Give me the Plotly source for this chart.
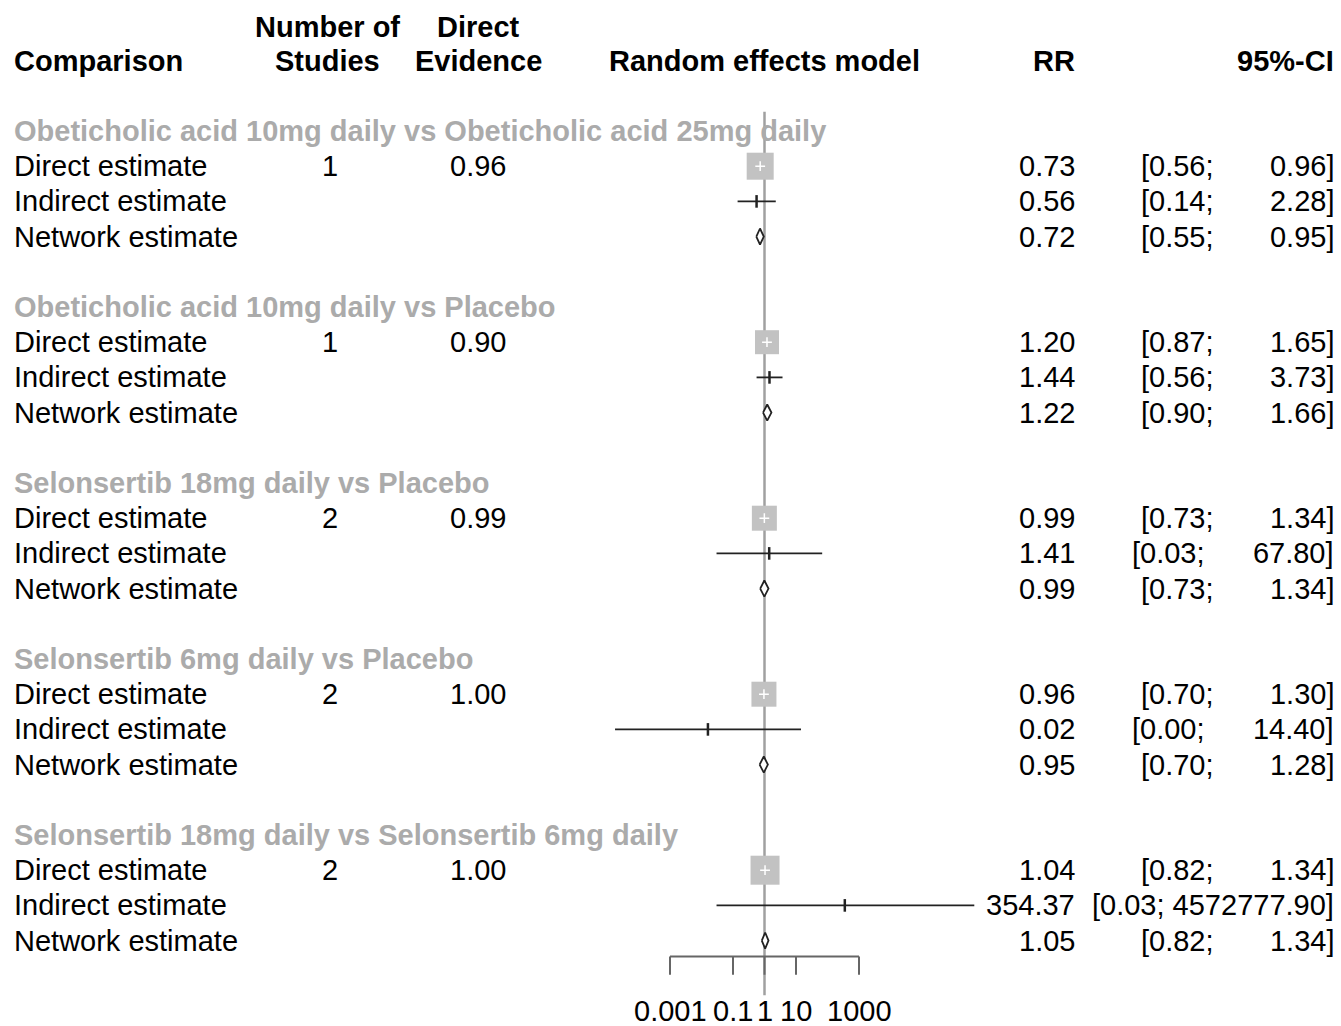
import math
import plotly.graph_objects as go

# ---------------- data ----------------
comparisons = [
    "Obeticholic acid 10mg daily vs Obeticholic acid 25mg daily",
    "Obeticholic acid 10mg daily vs Placebo",
    "Selonsertib 18mg daily vs Placebo",
    "Selonsertib 6mg daily vs Placebo",
    "Selonsertib 18mg daily vs Selonsertib 6mg daily",
]
row_labels = ["Direct estimate", "Indirect estimate", "Network estimate"]
n_studies = [1, 1, 2, 2, 2]
direct_evidence = [0.96, 0.90, 0.99, 1.00, 1.00]

direct_rr = [0.73, 1.20, 0.99, 0.96, 1.04]
direct_lower = [0.56, 0.87, 0.73, 0.70, 0.82]
direct_upper = [0.96, 1.65, 1.34, 1.30, 1.34]

indirect_rr = [0.56, 1.44, 1.41, 0.016, 354.37]
indirect_lower = [0.14, 0.56, 0.03, 0.000018, 0.03]
indirect_upper = [2.28, 3.73, 67.80, 14.40, 4572777.90]

network_rr = [0.72, 1.22, 0.99, 0.95, 1.05]
network_lower = [0.55, 0.90, 0.73, 0.70, 0.82]
network_upper = [0.95, 1.66, 1.34, 1.28, 1.34]

tick_values = [0.001, 0.1, 1, 10, 1000]
tick_labels = ["0.001", "0.1", "1", "10", "1000"]
null_value = 1

# ---------------- style ----------------
W, H = 1341, 1026
FONT = "Liberation Sans, Arial, Helvetica, sans-serif"
FS = 29
TITLE_GREY = "#ABABAB"
SQUARE_GREY = "#C2C2C2"
REF_GREY = "#A0A0A0"
AXIS_GREY = "#666666"
SQUARE_PX = [27, 24, 25, 25, 29]
ROWS_PER_GROUP = 5
DIAMOND_HALF = 0.23
NBSP = "\u00a0"

# pixel columns (for paper-referenced text)
COL_LABEL = 12
COL_STUDIES = 330
COL_EVID = 478
COL_MODEL = 765
COL_RR = 1077
COL_CI = 1336


def px(xp):
    return xp / W


fig = go.Figure()
annotations = []


def txt(x_px, r, s, anchor="left", bold=False, color="black"):
    annotations.append(dict(
        x=px(x_px), y=r, xref="paper", yref="y",
        text=("<b>%s</b>" % s) if bold else s, showarrow=False,
        xanchor=anchor, yanchor="middle",
        font=dict(family=FONT, size=FS, color=color)))


# headers
txt(COL_STUDIES - 3, -2.95, "Number of", anchor="center", bold=True)
txt(COL_STUDIES - 3, -2, "Studies", anchor="center", bold=True)
txt(COL_LABEL, -2, "Comparison", bold=True)
txt(COL_EVID, -2.95, "Direct", anchor="center", bold=True)
txt(COL_EVID, -2, "Evidence", anchor="center", bold=True)
txt(COL_MODEL, -2, "Random effects model", anchor="center", bold=True)
txt(COL_RR, -2, "RR", anchor="right", bold=True)
txt(COL_CI, -2, "95%-CI", anchor="right", bold=True)

# CI string formatting (R style padding)
all_lower = direct_lower + indirect_lower + network_lower
all_upper = direct_upper + indirect_upper + network_upper
wl = max(len(f"{v:.2f}") for v in all_lower)
wu = max(len(f"{v:.2f}") for v in all_upper)


def ci_str(lo, up):
    return "[" + f"{lo:.2f}".rjust(wl, NBSP) + ";" + NBSP + f"{up:.2f}".rjust(wu, NBSP) + "]"


last_row = (len(comparisons) - 1) * ROWS_PER_GROUP + 3
axis_r = last_row + 0.45
tick_r = axis_r + 0.52
label_r = last_row + 2.0

# reference line (beneath everything)
fig.add_shape(type="line", xref="x", yref="y", x0=null_value, x1=null_value,
              y0=-0.55, y1=label_r - 0.45, line=dict(color=REF_GREY, width=2.5),
              layer="below")

for g, comp in enumerate(comparisons):
    r0 = g * ROWS_PER_GROUP
    txt(COL_LABEL, r0, comp, bold=True, color=TITLE_GREY)
    for k, lab in enumerate(row_labels):
        txt(COL_LABEL, r0 + 1 + k, lab)
    txt(COL_STUDIES, r0 + 1, str(n_studies[g]), anchor="center")
    txt(COL_EVID, r0 + 1, f"{direct_evidence[g]:.2f}", anchor="center")

    ests = [(direct_rr[g], direct_lower[g], direct_upper[g]),
            (indirect_rr[g], indirect_lower[g], indirect_upper[g]),
            (network_rr[g], network_lower[g], network_upper[g])]
    for k, (te, lo, up) in enumerate(ests):
        r = r0 + 1 + k
        txt(COL_RR, r, f"{te:.2f}", anchor="right")
        txt(COL_CI, r, ci_str(lo, up), anchor="right")

    # direct: CI line + grey square with white cross
    r = r0 + 1
    fig.add_trace(go.Scatter(x=[direct_lower[g], direct_upper[g]], y=[r, r], mode="lines",
                             line=dict(color="black", width=1.8), hoverinfo="skip"))
    fig.add_trace(go.Scatter(x=[direct_rr[g]], y=[r], mode="markers",
                             marker=dict(symbol="square", size=SQUARE_PX[g], color=SQUARE_GREY,
                                         line=dict(width=0)), hoverinfo="skip"))
    fig.add_trace(go.Scatter(x=[direct_rr[g]], y=[r], mode="markers",
                             marker=dict(symbol="cross-thin", size=7,
                                         line=dict(color="white", width=1.5)), hoverinfo="skip"))
    # indirect: CI line + small tick
    r = r0 + 2
    fig.add_trace(go.Scatter(x=[indirect_lower[g], indirect_upper[g]], y=[r, r], mode="lines",
                             line=dict(color="#222222", width=1.8), hoverinfo="skip"))
    fig.add_trace(go.Scatter(x=[indirect_rr[g]], y=[r], mode="markers",
                             marker=dict(symbol="line-ns", size=9,
                                         line=dict(color="#222222", width=2.5)), hoverinfo="skip"))
    # network: diamond
    r = r0 + 3
    fig.add_trace(go.Scatter(
        x=[network_lower[g], network_rr[g], network_upper[g], network_rr[g], network_lower[g]],
        y=[r, r - DIAMOND_HALF, r, r + DIAMOND_HALF, r],
        mode="lines", fill="toself", fillcolor="white",
        line=dict(color="#222222", width=1.8), hoverinfo="skip"))

# custom axis
ax_x, ax_y = [min(tick_values), max(tick_values)], [axis_r, axis_r]
for t in tick_values:
    ax_x += [None, t, t]
    ax_y += [None, axis_r, tick_r]
fig.add_trace(go.Scatter(x=ax_x, y=ax_y, mode="lines",
                         line=dict(color=AXIS_GREY, width=2), hoverinfo="skip"))
for t, lab in zip(tick_values, tick_labels):
    annotations.append(dict(x=math.log10(t), y=label_r, xref="x", yref="y",
                            text=lab, showarrow=False, xanchor="center", yanchor="middle",
                            font=dict(family=FONT, size=FS, color="black")))

# axis scales chosen so that 1 decade = 31.5 px, null at x=764.5 px; row pitch 35.2 px
x_null_px, dec_px = 764.5, 31.5
row0_px, pitch_px = 131.0, 35.2
fig.update_layout(
    width=W, height=H, margin=dict(l=0, r=0, t=0, b=0),
    paper_bgcolor="white", plot_bgcolor="white", showlegend=False,
    xaxis=dict(type="log", range=[-x_null_px / dec_px, (W - x_null_px) / dec_px],
               visible=False, fixedrange=True),
    yaxis=dict(range=[(H - row0_px) / pitch_px, -row0_px / pitch_px],
               visible=False, fixedrange=True),
    annotations=annotations,
)

fig.write_html(
    "out.html",
    config={"displayModeBar": False},
    post_script="document.body.style.margin='0';document.body.style.overflow='hidden';",
)
